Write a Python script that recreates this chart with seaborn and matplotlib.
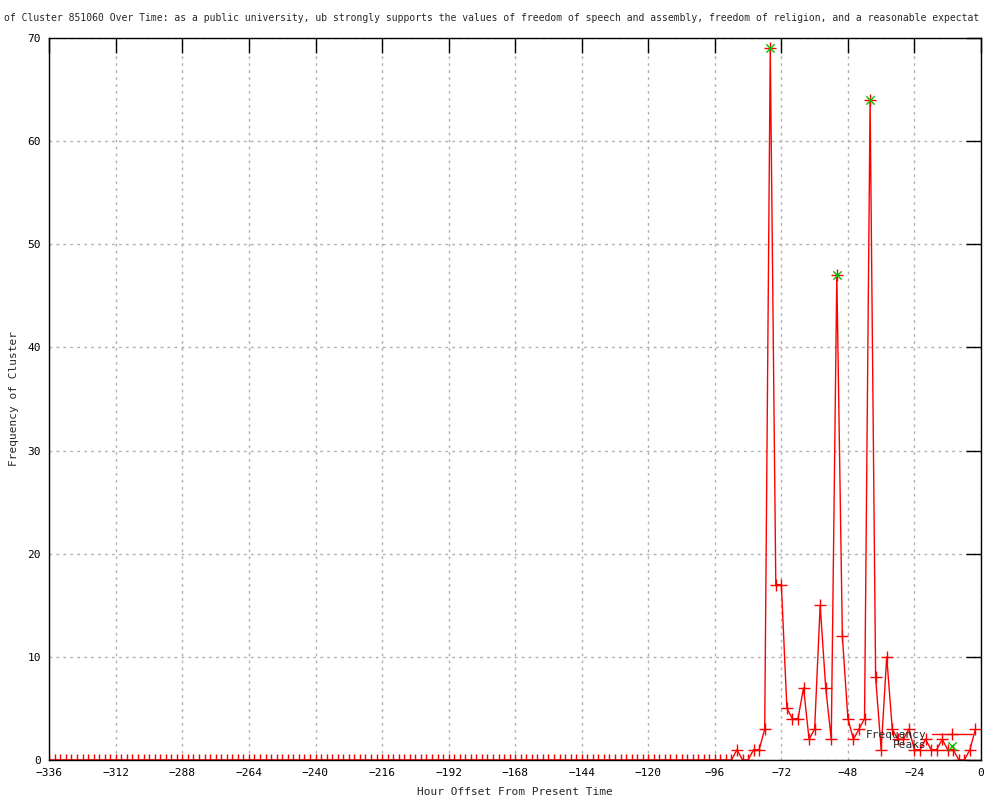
import numpy as np
import pandas as pd
import seaborn as sns
import matplotlib.pyplot as plt

# hours before now, sampled every 2 hours
hours = list(range(-336, 0, 2))
freq = [0] * 124 + [
    1, 0, 0, 1, 1, 3, 69, 17, 17, 5, 4, 4, 7, 2, 3, 15, 7, 2, 47, 12, 4, 2,
    3, 4, 64, 8, 1, 10, 3, 2, 2, 3, 1, 1, 2, 1, 1, 2, 1, 1, 0, 0, 1, 3,
]
peak_hours = [-76, -52, -40]
peak_vals = [69, 47, 64]

x_ticks = list(range(-336, 1, 24))
y_ticks = list(range(0, 71, 10))

title = ("of Cluster 851060 Over Time: as a public university, ub strongly supports "
         "the values of freedom of speech and assembly, freedom of religion, and a "
         "reasonable expectat")

df = pd.DataFrame({"hour": hours, "freq": freq})
peaks = pd.DataFrame({"hour": peak_hours, "freq": peak_vals})

sns.set_style("white")
plt.rcParams["font.family"] = ["DejaVu Sans Mono"]

fig = plt.figure(figsize=(10, 8), dpi=100)
ax = fig.add_axes([0.0493, 0.05, 0.9317, 0.9025])

sns.lineplot(data=df, x="hour", y="freq", ax=ax, color="red", linewidth=1,
             marker="+", markersize=8, markeredgewidth=1, markeredgecolor="red",
             label="Frequency")
sns.scatterplot(data=peaks, x="hour", y="freq", ax=ax, color="#00c000",
                marker="x", s=36, linewidth=1, label="Peaks", zorder=5)

ax.set_xlim(-336, 0)
ax.set_ylim(0, 70)
ax.set_xticks(x_ticks)
ax.set_yticks(y_ticks)
ax.tick_params(direction="in", length=11, width=1, top=True, right=True,
               labelsize=8, colors="black", pad=6)
ax.grid(True, color="#b0b0b0", linestyle=(0, (2, 3)), linewidth=1)
for s in ax.spines.values():
    s.set_color("black")
    s.set_linewidth(1)

ax.set_xlabel("Hour Offset From Present Time", fontsize=8, labelpad=6)
ax.set_ylabel("Frequency of Cluster", fontsize=8)
ax.yaxis.set_label_coords(-0.033, 0.5)
fig.text(0.004, 0.977, title, fontsize=7.05, ha="left", va="center")

leg = ax.legend(loc="lower right", bbox_to_anchor=(0.998, 0.004), frameon=False,
                markerfirst=False, fontsize=8, handlelength=3.6,
                labelspacing=0.05, handletextpad=0.5, borderaxespad=0.2)

fig.savefig("out.png", dpi=100)
